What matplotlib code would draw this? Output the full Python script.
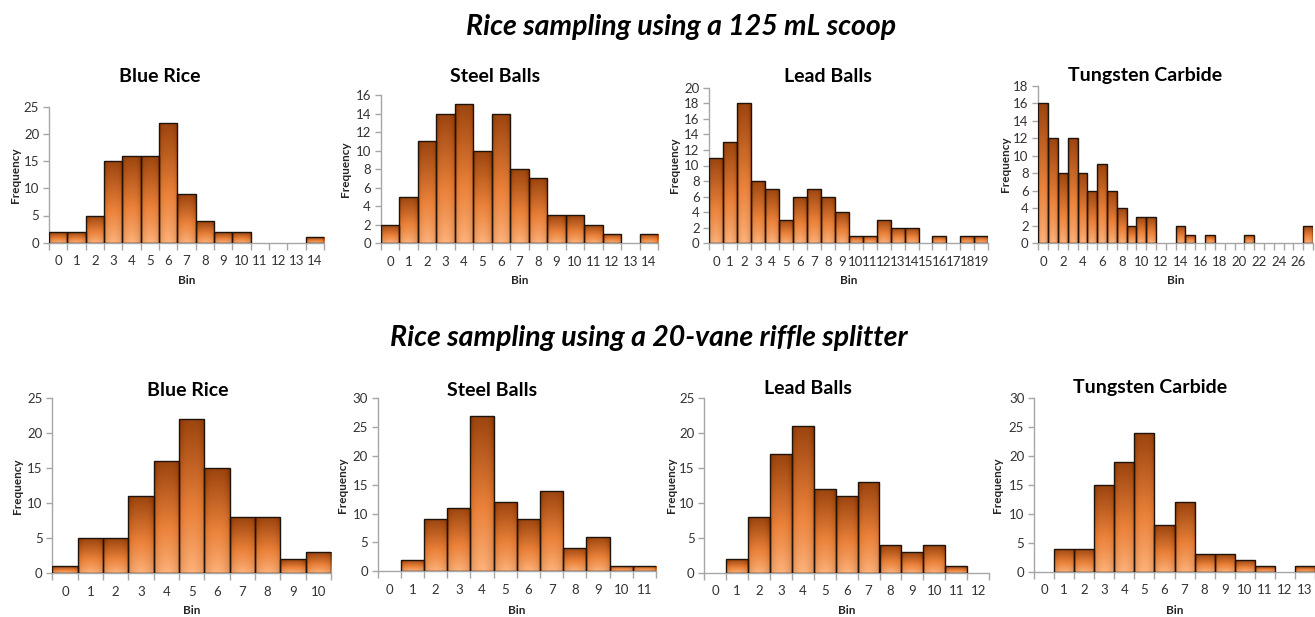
import numpy as np
import matplotlib
matplotlib.use("Agg")
import matplotlib.pyplot as plt
from matplotlib.patches import Rectangle

plt.rcParams["font.family"] = ["Lato", "DejaVu Sans"]

# ---- data -------------------------------------------------------------
scoop_blue_rice = [2, 2, 5, 15, 16, 16, 22, 9, 4, 2, 2, 0, 0, 0, 1]
scoop_steel = [2, 5, 11, 14, 15, 10, 14, 8, 7, 3, 3, 2, 1, 0, 1]
scoop_lead = [11, 13, 18, 8, 7, 3, 6, 7, 6, 4, 1, 1, 3, 2, 2, 0, 1, 0, 1, 1]
scoop_tungsten = [16, 12, 8, 12, 8, 6, 9, 6, 4, 2, 3, 3, 0, 0, 2, 1, 0, 1,
                  0, 0, 0, 1, 0, 0, 0, 0, 0, 2]

riffle_blue_rice = [1, 5, 5, 11, 16, 22, 15, 8, 8, 2, 3]
riffle_steel = [0, 2, 9, 11, 27, 12, 9, 14, 4, 6, 1, 1]
riffle_lead = [0, 2, 8, 17, 21, 12, 11, 13, 4, 3, 4, 1, 0]
riffle_tungsten = [0, 4, 4, 15, 19, 24, 8, 12, 3, 3, 2, 1, 0, 1]

panel_titles = ["Blue Rice", "Steel Balls", "Lead Balls", "Tungsten Carbide"]
row_titles = ["Rice sampling using a 125 mL scoop",
              "Rice sampling using a 20-vane riffle splitter"]

W, H = 1315, 617
fig = plt.figure(figsize=(W / 100, H / 100), dpi=100)
fig.patch.set_facecolor("white")


def fx(x):
    return x / W


def fy(y):
    return 1 - y / H


# bar gradient: dark rust at the top, orange in the middle, peach at the base
def bar_gradient():
    ny, nx = 80, 24
    t = np.linspace(0, 1, ny)[:, None]            # 0 = bottom, 1 = top
    u = np.linspace(-1, 1, nx)[None, :]
    light = np.array([0.94, 0.64, 0.42])
    mid = np.array([0.91, 0.50, 0.22])
    dark = np.array([0.61, 0.27, 0.06])
    w1 = np.clip(t / 0.4, 0, 1)[..., None]
    w2 = np.clip((t - 0.4) / 0.6, 0, 1)[..., None]
    col = np.where(t[..., None] < 0.4,
                   light * (1 - w1) + mid * w1,
                   mid * (1 - w2) + dark * w2)
    col = np.broadcast_to(col, (ny, nx, 3)).copy()
    # soft glow near the base centre, darker sides
    glow = np.exp(-(u ** 2) / 0.35) * np.exp(-t / 0.25)
    col = col + (glow[..., None] * 0.06)
    side = (np.abs(u) ** 4)[..., None] * 0.08
    col = col - side
    return np.clip(col[::-1], 0, 1)


GRAD = bar_gradient()


def draw_panel(box, counts, ymax, ystep, title, title_xy, freq_x,
               bin_y, label_every=1):
    left, right, top, bottom = box
    ax = fig.add_axes([fx(left), fy(bottom), fx(right) - fx(left),
                       fy(top) - fy(bottom)])
    n = len(counts)
    for i, c in enumerate(counts):
        if c <= 0:
            continue
        rect = Rectangle((i - 0.5, 0), 1, c, facecolor="none",
                         edgecolor="#1e140c", linewidth=1.0, zorder=3)
        ax.add_patch(rect)
        im = ax.imshow(GRAD, extent=(i - 0.5, i + 0.5, 0, c),
                       aspect="auto", interpolation="bilinear", zorder=2)
        im.set_clip_path(rect)
    ax.set_xlim(-0.5, n - 0.5)
    ax.set_ylim(0, ymax)

    for s in ("top", "right"):
        ax.spines[s].set_visible(False)
    for s in ("left", "bottom"):
        ax.spines[s].set_color("#a6a6a6")
        ax.spines[s].set_linewidth(1.0)

    ax.set_yticks(np.arange(0, ymax + 0.1, ystep))
    ax.set_xticks(np.arange(-0.5, n, 1.0))
    ax.set_xticklabels([])
    ax.set_xticks(np.arange(0, n, label_every), minor=True)
    ax.set_xticklabels([str(v) for v in range(0, n, label_every)],
                       minor=True)
    ax.tick_params(axis="x", which="major", length=5, width=1,
                   color="#a6a6a6", direction="out")
    ax.tick_params(axis="x", which="minor", length=0, pad=9,
                   labelsize=9.5, labelcolor="#333333")
    ax.tick_params(axis="y", length=4, width=1, color="#a6a6a6",
                   labelsize=9.5, labelcolor="#333333", pad=3)
    ax.set_facecolor("none")

    fig.text(fx(title_xy[0]), fy(title_xy[1]), title, ha="center",
             va="center", fontsize=14, fontweight="bold", color="black")
    fig.text(fx(freq_x), fy((top + bottom) / 2), "Frequency", rotation=90,
             ha="center", va="center", fontsize=8.5, fontweight="bold",
             color="#262626")
    fig.text(fx((left + right) / 2), fy(bin_y), "Bin", ha="center",
             va="center", fontsize=8.5, fontweight="bold", color="#262626")
    return ax


# top row: scoop sampling
draw_panel((49, 324, 106.7, 242.7), scoop_blue_rice, 25, 5,
           panel_titles[0], (160, 77), 15, 280)
draw_panel((380.7, 658, 95, 243.3), scoop_steel, 16, 2,
           panel_titles[1], (495, 77), 345, 280)
draw_panel((709.3, 988.3, 87.7, 243.3), scoop_lead, 20, 2,
           panel_titles[2], (828, 76), 675, 280)
draw_panel((1038.3, 1313, 85.7, 243.3), scoop_tungsten, 18, 2,
           panel_titles[3], (1145, 75), 1005, 280, label_every=2)

# bottom row: riffle splitter sampling
draw_panel((52.3, 331, 398.3, 573.3), riffle_blue_rice, 25, 5,
           panel_titles[0], (188, 391), 18, 611)
draw_panel((377.7, 656, 398.3, 571.3), riffle_steel, 30, 5,
           panel_titles[1], (492, 391), 343, 611)
draw_panel((704.3, 989, 398.3, 572.7), riffle_lead, 25, 5,
           panel_titles[2], (808, 388), 672, 611)
draw_panel((1034, 1315, 398.3, 571.7), riffle_tungsten, 30, 5,
           panel_titles[3], (1150, 388), 998, 611)

fig.text(fx(681), fy(27), row_titles[0], ha="center", va="center",
         fontsize=20.5, fontweight="bold", fontstyle="italic", color="black")
fig.text(fx(649), fy(338), row_titles[1], ha="center", va="center",
         fontsize=20.5, fontweight="bold", fontstyle="italic", color="black")

fig.savefig("out.png", dpi=100, facecolor="white")
